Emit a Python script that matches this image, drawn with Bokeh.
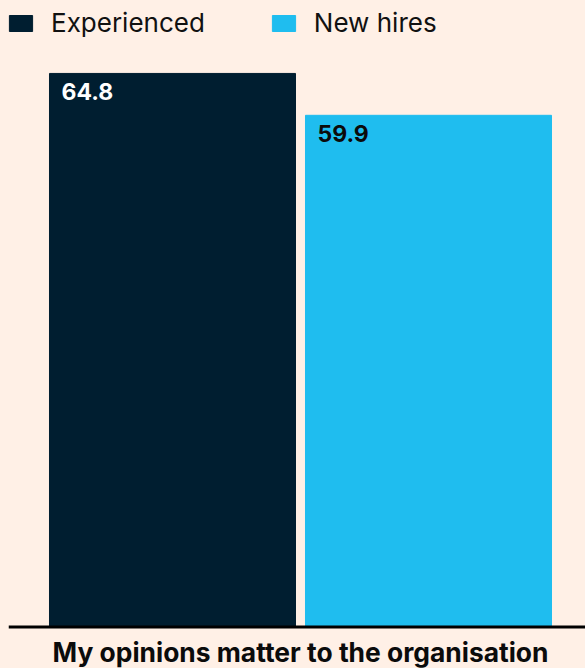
from bokeh.plotting import figure
from bokeh.models import Range1d, Legend, LegendItem, ColumnDataSource, GlobalInlineStyleSheet, Span
from bokeh.core.properties import value
from bokeh.embed import file_html
from bokeh.resources import INLINE

category = "My opinions matter to the organisation"
series = ["Experienced", "New hires"]
values = [64.8, 59.9]
colors = ["#001E30", "#1FBDEF"]
label_colors = ["#FFFFFF", "#0B0B0B"]

BG = "#FFF0E6"
FONT = "Inter"

idx = list(range(len(series)))
bar_w = 0.961
src = ColumnDataSource(dict(
    x=idx, top=values, color=colors, name=series,
    lx=[i - bar_w / 2 for i in idx],
    label=[f"{v:.1f}" for v in values], lcolor=label_colors,
))

p = figure(width=585, height=668, output_backend="svg", toolbar_location=None,
           x_range=Range1d(-0.6406, 1.6133), y_range=Range1d(-4.858, 73.34),
           x_axis_location=None, y_axis_location=None,
           min_border_left=8, min_border_right=0, min_border_top=0, min_border_bottom=0)
p.background_fill_color = BG
p.border_fill_color = BG
p.outline_line_color = None
p.grid.visible = False

r = p.vbar(x="x", top="top", width=bar_w, color="color", source=src)

p.text(x="lx", y="top", text="label", text_color="lcolor", source=src,
       x_offset=12, y_offset=10, text_baseline="top", text_align="left",
       text_font=value(FONT), text_font_size="23px", text_font_style="bold")

# baseline (category axis line)
p.add_layout(Span(location=0, dimension="width", line_color="#000000", line_width=3))

# category label under the group
mid = sum(idx) / len(idx)
p.text(x=[mid], y=[0], text=[category], text_align="center", text_baseline="alphabetic",
       y_offset=24.5, text_color="#0B0B0B", text_font=value(FONT),
       text_font_size="26.4px", text_font_style="bold")

items = [LegendItem(label=s, renderers=[r], index=i) for i, s in enumerate(series)]
leg = Legend(items=items, location=(-2, 630), orientation="horizontal",
             glyph_width=29, glyph_height=20, label_standoff=16, spacing=64,
             margin=0, padding=0, border_line_color=None, background_fill_alpha=0,
             label_text_font=FONT, label_text_font_size="26px", label_text_color="#111111")
p.add_layout(leg, "center")

p.stylesheets = [GlobalInlineStyleSheet(css=f"html, body {{ background: {BG}; }}")]

open("out.html", "w").write(file_html(p, INLINE))
